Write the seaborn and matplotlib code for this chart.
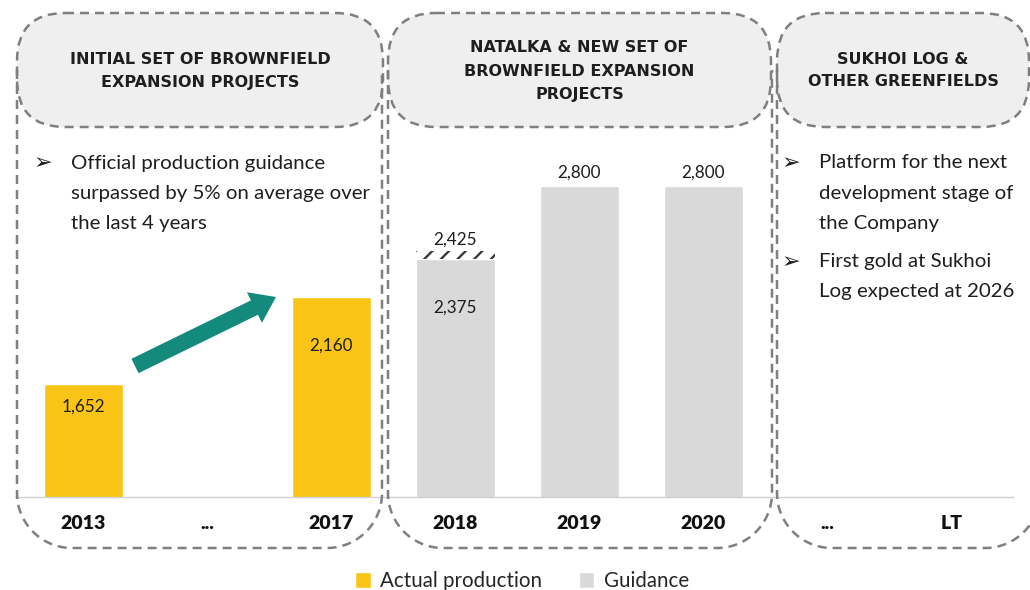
import matplotlib
matplotlib.use("Agg")
import matplotlib.pyplot as plt
from matplotlib.patches import FancyBboxPatch, FancyArrow
import numpy as np
import pandas as pd
import seaborn as sns

# ---------------- data ----------------
slot_labels = ["2013", "...", "2017", "2018", "2019", "2020", "...", "LT"]
series_names = ["Actual production", "Guidance"]

actual_slots = [0, 2]
actual_values = [1652, 2160]

guidance_slots = [3, 4, 5]
guidance_values = [2375, 2800, 2800]

# 2018 guidance range: lower value is the bar, upper value is the hatched cap
range_slot = 3
range_upper = 2425

panel_headers = [
    ["INITIAL SET OF BROWNFIELD", "EXPANSION PROJECTS"],
    ["NATALKA & NEW SET OF", "BROWNFIELD EXPANSION", "PROJECTS"],
    ["SUKHOI LOG &", "OTHER GREENFIELDS"],
]
left_notes = [
    ["Official production guidance", "surpassed by 5% on average over", "the last 4 years"],
]
right_notes = [
    ["Platform for the next", "development stage of", "the Company"],
    ["First gold at Sukhoi", "Log expected at 2026"],
]

# ---------------- style ----------------
YELLOW = "#F9C416"
GREY = "#D9D9D9"
TEAL = "#138A7C"
PILL = "#EFEFEF"
DASH = "#7F7F7F"
TEXT = "#1E1E1E"
BODY_FONT = ["Lato", "DejaVu Sans"]
HEAD_FONT = ["DejaVu Sans"]
TICK_FONT = ["Lato", "DejaVu Sans"]

sns.set_style("white")
plt.rcParams["font.family"] = BODY_FONT
plt.rcParams["hatch.linewidth"] = 1.7

W, H = 1030, 590
fig = plt.figure(figsize=(W / 100, H / 100), dpi=100)


def frac(left, top, width, height):
    return [left / W, 1 - (top + height) / H, width / W, height / H]


# ---------------- bars ----------------
AX_LEFT, AX_RIGHT, SLOT_PX = 15, 1013, 124
ax = fig.add_axes(frac(AX_LEFT, 151.4, AX_RIGHT - AX_LEFT, 345.6))
ax.patch.set_alpha(0)

df = pd.DataFrame({
    "slot": actual_slots + guidance_slots,
    "value": actual_values + guidance_values,
    "kind": [series_names[0]] * len(actual_slots) + [series_names[1]] * len(guidance_slots),
})
BAR_W = 0.64
sns.barplot(data=df, x="slot", y="value", hue="kind",
            order=list(range(len(slot_labels))), hue_order=series_names,
            palette=[YELLOW, GREY], dodge=False, width=BAR_W, saturation=1,
            errorbar=None, ax=ax)

# hatched cap for the upper end of the 2018 range
lower = guidance_values[guidance_slots.index(range_slot)]
ax.bar(range_slot, range_upper - lower, bottom=lower, width=BAR_W,
       facecolor="white", edgecolor="#3A3A3A", hatch="//", linewidth=0)

# value labels
inside_offset = {0: 15.8, 2: 35.3, 3: 34.6}
for s, v in zip(actual_slots + guidance_slots, actual_values + guidance_values):
    dy = -inside_offset[s] if s in inside_offset else 9.5
    ax.annotate(f"{v:,}", xy=(s, v), xytext=(0, dy), textcoords="offset points",
                ha="center", va="center", fontsize=12.3, color=TEXT, family=BODY_FONT)
ax.annotate(f"{range_upper:,}", xy=(range_slot, range_upper), xytext=(0, 8),
            textcoords="offset points", ha="center", va="center",
            fontsize=12.3, color=TEXT, family=BODY_FONT)

left_slot = -0.552
ax.set_ylim(1000, 3000)
ax.set_xlim(left_slot, left_slot + (AX_RIGHT - AX_LEFT) / SLOT_PX)
ax.set_yticks([])
ax.set_xlabel("")
ax.set_ylabel("")
ax.set_xticks(range(len(slot_labels)))
ax.set_xticklabels(slot_labels, family=TICK_FONT, fontweight="heavy", fontsize=14, color="#111111")
ax.tick_params(axis="x", length=0, pad=13)
for side in ["left", "right", "top"]:
    ax.spines[side].set_visible(False)
ax.spines["bottom"].set_color("#D0D0D0")
ax.spines["bottom"].set_linewidth(1.0)

sns.move_legend(ax, "center",
                bbox_to_anchor=((522 - AX_LEFT) / (AX_RIGHT - AX_LEFT), -0.243), ncol=2,
                frameon=False, title=None, handlelength=0.75, handleheight=0.8,
                handletextpad=0.45, columnspacing=1.8,
                prop={"family": BODY_FONT, "size": 14.8})
for t in ax.get_legend().get_texts():
    t.set_color("#262626")

# ---------------- panels, headers, notes ----------------
ov = fig.add_axes([0, 0, 1, 1], zorder=5)
ov.set_xlim(0, W)
ov.set_ylim(H, 0)
ov.axis("off")
ov.patch.set_alpha(0)

dash_style = (0, (3.6, 2.4))
panels = [(17, 382, 383), (388, 772, 771), (777, 1040, 1029)]
header_rows = [[59, 82], [47, 71, 94], [59, 82]]


def frame_outline(x0, x1, top, bottom, r, n=40):
    """Open U-shaped outline: down the left side, round the bottom, up the right."""
    a1 = np.linspace(np.pi, np.pi / 2, n)   # bottom-left corner
    a2 = np.linspace(np.pi / 2, 0, n)       # bottom-right corner
    xs = np.concatenate([[x0], x0 + r + r * np.cos(a1), x1 - r + r * np.cos(a2), [x1]])
    ys = np.concatenate([[top], bottom - r + r * np.sin(a1), bottom - r + r * np.sin(a2), [top]])
    return xs, ys


for (x0, x1, pill_x1), rows, lines in zip(panels, header_rows, panel_headers):
    fx, fy = frame_outline(x0, x1, 70, 548, 55)
    ov.plot(fx, fy, color=DASH, lw=1.8, linestyle=dash_style, solid_capstyle="butt")
    pill = FancyBboxPatch((x0, 13), pill_x1 - x0, 114,
                          boxstyle="round,pad=0,rounding_size=48",
                          facecolor=PILL, edgecolor=DASH, lw=1.8, linestyle=dash_style)
    ov.add_patch(pill)
    cx = (x0 + pill_x1) / 2
    for y, line in zip(rows, lines):
        ov.text(cx, y, line, ha="center", va="center", family=HEAD_FONT,
                fontweight="bold", fontsize=11.5, color=TEXT)


def bullets(x_mark, x_text, groups, y_start, line_gap, group_gap):
    y = y_start
    for group in groups:
        ov.text(x_mark, y, "\u27A2", ha="center", va="center", family=["DejaVu Sans"],
                fontweight="bold", fontsize=16, color=TEXT)
        for line in group:
            ov.text(x_text, y, line, ha="left", va="center", family=BODY_FONT,
                    fontsize=14.7, color=TEXT)
            y += line_gap
        y += group_gap - line_gap


bullets(43, 71, left_notes, 163, 30, 39)
bullets(791, 819, right_notes, 163, 30, 39)

# growth arrow between 2013 and 2017
ov.add_patch(FancyArrow(135, 366, 141, -69, width=16, head_width=34, head_length=24,
                        length_includes_head=True, color=TEAL, lw=0))

fig.savefig("out.png", dpi=100)
